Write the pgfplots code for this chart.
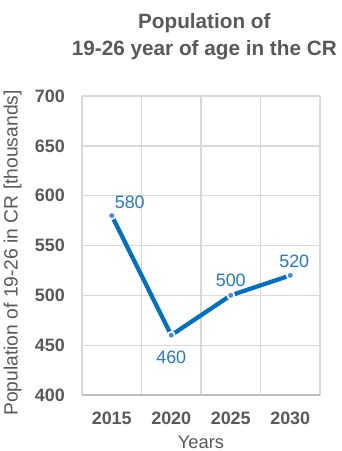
\documentclass[border=0pt]{standalone}
\usepackage{pgfplots}
\pgfplotsset{compat=1.18}
\usepackage{fontspec}
\setmainfont{Liberation Sans}
\definecolor{txtgray}{HTML}{595959}
\definecolor{gridgray}{HTML}{D9D9D9}
\definecolor{axgray}{HTML}{BFBFBF}
\definecolor{lineblue}{HTML}{0070C0}
\definecolor{markblue}{HTML}{4A86E8}
\definecolor{lblblue}{RGB}{38,120,200}
\begin{document}
\begin{tikzpicture}
\begin{axis}[
  scale only axis,
  width=178.5bp, height=224.25bp,
  xmin=-0.5, xmax=3.5, ymin=400, ymax=700,
  xtick={0,1,2,3},
  xticklabels={2015,2020,2025,2030},
  minor xtick={-0.5,0.5,1.5,2.5,3.5},
  ytick={400,450,...,700},
  major tick length=0pt, minor tick length=0pt,
  xminorgrids=true, ymajorgrids=true,
  grid style={gridgray, line width=1bp},
  minor grid style={gridgray, line width=1bp},
  axis line style={draw=none},
  /pgf/number format/assume math mode=true,
  ticklabel style={font=\fontsize{13.5}{16}\selectfont\bfseries, text=txtgray, inner sep=0pt},
  yticklabel style={anchor=east, xshift=-12.75bp},
  xticklabel style={anchor=north, yshift=-12.4bp},
  title={Population of\\19-26 year of age in the CR},
  title style={font=\fontsize{15.6}{20.25}\selectfont\bfseries, text=txtgray, align=center, inner sep=0pt, at={(rel axis cs:0.514,1.25)}, anchor=north},
  xlabel={Years},
  xlabel style={font=\fontsize{13.8}{16}\selectfont, text=txtgray, inner sep=0pt, at={(rel axis cs:0.5,-0.137)}, anchor=north},
  ylabel={Population of 19-26 in CR [thousands]},
  ylabel style={font=\fontsize{14.5}{17}\selectfont, text=txtgray, inner sep=0pt, at={(rel axis cs:-0.27,0.475)}, anchor=base, rotate=0},
  clip=false,
]
\draw[axgray, line width=1bp] (rel axis cs:0,0) -- (rel axis cs:1,0);
\addplot[lineblue, line width=3.2bp, mark=*, mark size=2.6bp,
  mark options={fill=markblue, draw=white, line width=1.2bp}]
  coordinates {(0,580) (1,460) (2,500) (3,520)};
\draw[gray, line width=0.6bp] (axis cs:1,460) ++(0,-3bp) -- ++(0,-6bp);
\node[text=lblblue, font=\fontsize{13.5}{16}\selectfont, xshift=13.5bp, yshift=9.75bp] at (axis cs:0,580) {580};
\node[text=lblblue, font=\fontsize{13.5}{16}\selectfont, yshift=-16.5bp] at (axis cs:1,460) {460};
\node[text=lblblue, font=\fontsize{13.5}{16}\selectfont, yshift=11bp] at (axis cs:2,500) {500};
\node[text=lblblue, font=\fontsize{13.5}{16}\selectfont, xshift=3bp, yshift=10.5bp] at (axis cs:3,520) {520};
\end{axis}
\pgfresetboundingbox
\path[use as bounding box] (-61.5bp,-42bp) rectangle (195bp,296.25bp);
\end{tikzpicture}
\end{document}
